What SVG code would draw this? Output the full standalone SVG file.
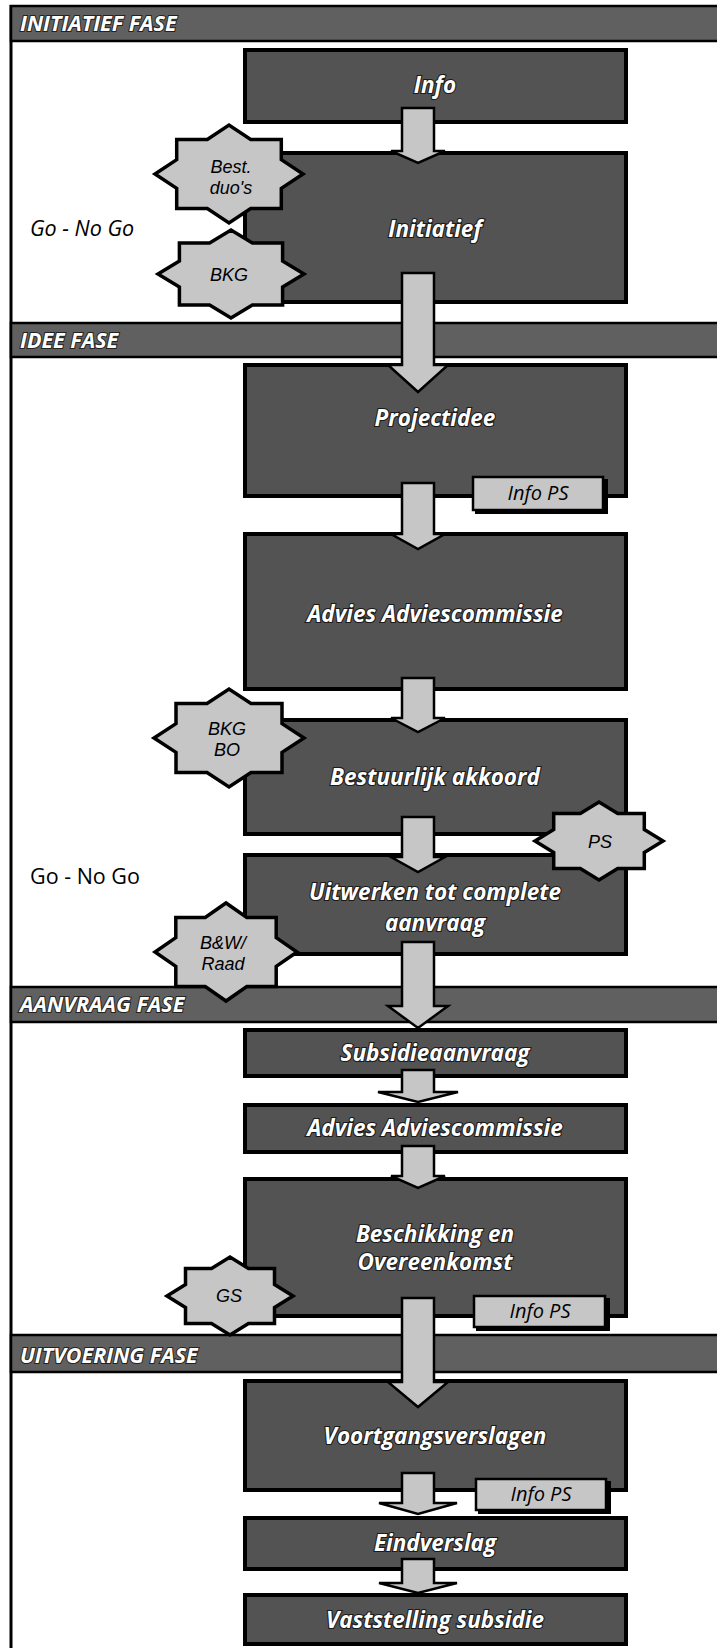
<svg xmlns="http://www.w3.org/2000/svg" width="717" height="1648" viewBox="0 0 717 1648">
<style>
.hdr rect{fill:#606060;stroke:#000;stroke-width:2.5}
.hdr text{font-family:"Open Sans",sans-serif;font-weight:700;font-style:italic;font-size:21.5px;fill:#fff;stroke:#222;stroke-width:2;paint-order:stroke}
.box rect{fill:#535353;stroke:#000;stroke-width:4}
.box text{font-family:"Open Sans",sans-serif;font-weight:700;font-style:italic;font-size:22.5px;fill:#fff;stroke:#1a1a1a;stroke-width:2.2;paint-order:stroke;text-anchor:middle}
.star polygon{fill:#c6c6c6;stroke:#000;stroke-width:3.5;stroke-linejoin:miter;stroke-miterlimit:10}
.star text{font-family:"Liberation Sans",sans-serif;font-style:italic;font-size:18px;fill:#000;text-anchor:middle}
.tab .sh{fill:#000}
.tab .t{fill:#c6c6c6;stroke:#000;stroke-width:2.5}
.tab text{font-family:"Open Sans",sans-serif;font-style:italic;font-size:20px;fill:#000;text-anchor:middle}
.arrow{fill:#c6c6c6;stroke:#000;stroke-width:2.5;stroke-linejoin:miter}
.gng{font-family:"Open Sans",sans-serif;font-size:21.5px;fill:#000}
</style>
<rect x="0" y="0" width="717" height="1648" fill="#fff"/>
<line x1="11" y1="5" x2="11" y2="1648" stroke="#000" stroke-width="3"/>

<g id="phase-initiatief" class="hdr"><rect x="11" y="6" width="720" height="35"/><text x="20" y="31">INITIATIEF FASE</text></g>
<g id="phase-idee" class="hdr"><rect x="11" y="323" width="720" height="34"/><text x="20" y="348">IDEE FASE</text></g>
<g id="phase-aanvraag" class="hdr"><rect x="11" y="987" width="720" height="35"/><text x="20" y="1012">AANVRAAG FASE</text></g>
<g id="phase-uitvoering" class="hdr"><rect x="11" y="1335" width="720" height="37"/><text x="20" y="1363">UITVOERING FASE</text></g>

<text id="gonogo1" class="gng" x="30" y="236" font-style="italic">Go - No Go</text>
<text id="gonogo2" class="gng" x="30" y="884">Go - No Go</text>

<g id="info" class="box"><rect x="245" y="50" width="381" height="72"/><text x="435" y="93">Info</text></g>
<g id="initiatief" class="box"><rect x="245" y="153" width="381" height="149"/><text x="435" y="237">Initiatief</text></g>
<g id="projectidee" class="box"><rect x="245" y="365" width="381" height="131"/><text x="435" y="426">Projectidee</text></g>
<g id="advies1" class="box"><rect x="245" y="534" width="381" height="155"/><text x="435" y="622">Advies Adviescommissie</text></g>
<g id="bestuurlijk" class="box"><rect x="245" y="720" width="381" height="114"/><text x="435" y="785">Bestuurlijk akkoord</text></g>
<g id="uitwerken" class="box"><rect x="245" y="855" width="381" height="99"/><text x="435" y="900">Uitwerken tot complete<tspan x="435" dy="31">aanvraag</tspan></text></g>
<g id="subsidieaanvraag" class="box"><rect x="245" y="1030" width="381" height="46"/><text x="435" y="1061">Subsidieaanvraag</text></g>
<g id="advies2" class="box"><rect x="245" y="1105" width="381" height="47"/><text x="435" y="1136">Advies Adviescommissie</text></g>
<g id="beschikking" class="box"><rect x="245" y="1179" width="381" height="137"/><text x="435" y="1242">Beschikking en<tspan x="435" dy="28">Overeenkomst</tspan></text></g>
<g id="voortgang" class="box"><rect x="245" y="1381" width="381" height="109"/><text x="435" y="1444">Voortgangsverslagen</text></g>
<g id="eindverslag" class="box"><rect x="245" y="1518" width="381" height="51"/><text x="435" y="1551">Eindverslag</text></g>
<g id="vaststelling" class="box"><rect x="245" y="1595" width="381" height="49"/><text x="435" y="1628">Vaststelling subsidie</text></g>

<g id="tab-infops1" class="tab"><rect class="sh" x="475" y="479" width="133" height="35"/><rect class="t" x="473" y="477" width="130" height="33"/><text x="538" y="500">Info PS</text></g>
<g id="tab-infops2" class="tab"><rect class="sh" x="476" y="1298" width="134" height="33"/><rect class="t" x="474" y="1296" width="131" height="31"/><text x="540" y="1318">Info PS</text></g>
<g id="tab-infops3" class="tab"><rect class="sh" x="478" y="1481" width="133" height="33"/><rect class="t" x="476" y="1479" width="130" height="31"/><text x="541" y="1501">Info PS</text></g>

<g id="star-bestduos" class="star"><polygon points="303,174 281.3,188.4 281.3,208.6 250.7,208.6 229,223 207.3,208.6 176.7,208.6 176.7,188.4 155,174 176.7,159.6 176.7,139.4 207.3,139.4 229,125 250.7,139.4 281.3,139.4 281.3,159.6"/><text x="231" y="173">Best.<tspan x="231" dy="21">duo's</tspan></text></g>
<g id="star-bkg" class="star"><polygon points="304,274 282.6,286.9 282.6,305.1 252.4,305.1 231,318 209.6,305.1 179.4,305.1 179.4,286.9 158,274 179.4,261.1 179.4,242.9 209.6,242.9 231,230 252.4,242.9 282.6,242.9 282.6,261.1"/><text x="229" y="281">BKG</text></g>
<g id="star-bkgbo" class="star"><polygon points="304,738 282,752.4 282,772.6 251,772.6 229,787 207,772.6 176,772.6 176,752.4 154,738 176,723.6 176,703.4 207,703.4 229,689 251,703.4 282,703.4 282,723.6"/><text x="227" y="735">BKG<tspan x="227" dy="21">BO</tspan></text></g>
<g id="star-ps" class="star"><polygon points="663,841 644.3,852.4 644.3,868.6 617.7,868.6 599,880 580.3,868.6 553.7,868.6 553.7,852.4 535,841 553.7,829.6 553.7,813.4 580.3,813.4 599,802 617.7,813.4 644.3,813.4 644.3,829.6"/><text x="600" y="848">PS</text></g>
<g id="star-bwraad" class="star"><polygon points="297,952 276.2,966.4 276.2,986.6 246.8,986.6 226,1001 205.2,986.6 175.8,986.6 175.8,966.4 155,952 175.8,937.6 175.8,917.4 205.2,917.4 226,903 246.8,917.4 276.2,917.4 276.2,937.6"/><text x="223" y="949">B&amp;W/<tspan x="223" dy="21">Raad</tspan></text></g>
<g id="star-gs" class="star"><polygon points="293,1296 274.5,1307.4 274.5,1323.6 248.5,1323.6 230,1335 211.5,1323.6 185.5,1323.6 185.5,1307.4 167,1296 185.5,1284.6 185.5,1268.4 211.5,1268.4 230,1257 248.5,1268.4 274.5,1268.4 274.5,1284.6"/><text x="229" y="1302">GS</text></g>

<g id="connectors">
<polygon class="arrow" points="402,108 434,108 434,151 445,151 418,163 391,151 402,151"/>
<polygon class="arrow" points="402,273 434,273 434,365 448,365 418,392 388,365 402,365"/>
<polygon class="arrow" points="402,483 434,483 434,534 445,534 418,549 391,534 402,534"/>
<polygon class="arrow" points="402,678 434,678 434,718 445,718 418,732 391,718 402,718"/>
<polygon class="arrow" points="402,817 434,817 434,857 445,857 418,872 391,857 402,857"/>
<polygon class="arrow" points="402,942 434,942 434,1006 448,1006 418,1028 388,1006 402,1006"/>
<polygon class="arrow" points="402,1070 434,1070 434,1092 458,1092 418,1102 378,1092 402,1092"/>
<polygon class="arrow" points="402,1146 434,1146 434,1176 445,1176 418,1188 391,1176 402,1176"/>
<polygon class="arrow" points="402,1298 434,1298 434,1382 448,1382 418,1407 388,1382 402,1382"/>
<polygon class="arrow" points="402,1473 434,1473 434,1503 457,1503 418,1514 379,1503 402,1503"/>
<polygon class="arrow" points="402,1559 434,1559 434,1583 457,1583 418,1593 379,1583 402,1583"/>
</g>
</svg>
